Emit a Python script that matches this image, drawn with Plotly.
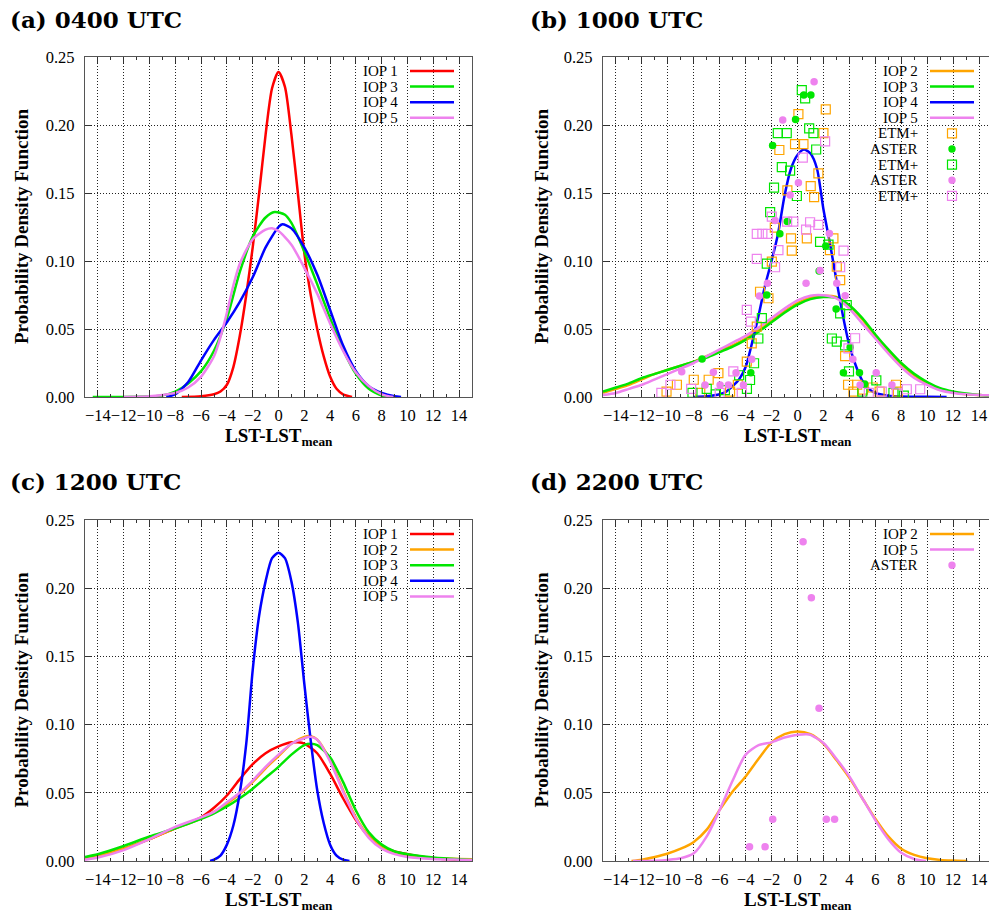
import plotly.graph_objects as go

W, H = 989, 915

# ---------------- (a) 0400 UTC ----------------
a_iop1_x = [-7.5, -6, -5, -4.5, -4, -3.5, -3, -2.5, -2, -1.5, -1, -0.5, 0, 0.5, 1, 1.5, 2, 2.5, 3, 3.5, 4, 4.5, 5, 5.7]
a_iop1_y = [0, 0.0006, 0.002, 0.004, 0.009, 0.022, 0.045, 0.075, 0.11, 0.15, 0.193, 0.227, 0.239, 0.228, 0.193, 0.15, 0.106, 0.075, 0.05, 0.03, 0.015, 0.006, 0.002, 0]
a_iop3_x = [-14.4, -12, -10, -9, -8, -7, -6, -5, -4, -3, -2, -1, -0.3, 0.5, 1, 2, 3, 4, 5, 6, 7, 8, 8.4]
a_iop3_y = [0, 0, 0.0005, 0.0012, 0.004, 0.01, 0.019, 0.034, 0.058, 0.092, 0.118, 0.132, 0.136, 0.134, 0.128, 0.107, 0.083, 0.058, 0.035, 0.017, 0.006, 0.001, 0]
a_iop4_x = [-8.7, -8, -7, -6, -5, -4, -3, -2, -1, 0, 0.3, 1, 2, 3, 4, 5, 6, 7, 8, 9, 9.5]
a_iop4_y = [0, 0.002, 0.011, 0.027, 0.042, 0.055, 0.07, 0.088, 0.11, 0.125, 0.127, 0.124, 0.11, 0.09, 0.064, 0.038, 0.019, 0.008, 0.003, 0.0005, 0]
a_iop5_x = [-12, -10, -9, -8, -7, -6, -5, -4.5, -4, -3.5, -3, -2, -1, -0.5, 0, 1, 2, 3, 4, 5, 6, 7, 8, 8.9]
a_iop5_y = [0, 0.0005, 0.0015, 0.003, 0.007, 0.015, 0.03, 0.044, 0.062, 0.082, 0.098, 0.116, 0.123, 0.124, 0.122, 0.112, 0.095, 0.076, 0.054, 0.034, 0.018, 0.008, 0.002, 0]

# ---------------- (b) 1000 UTC ----------------
b_wide_x = [-15, -14, -13, -12, -11, -10, -9, -8, -7, -6, -5, -4, -3, -2, -1, 0, 1, 2, 3, 4, 5, 6, 7, 8, 9, 10, 11, 12, 13, 14, 15]
b_iop2_y = [0.003, 0.006, 0.009, 0.013, 0.017, 0.02, 0.023, 0.026, 0.03, 0.034, 0.038, 0.043, 0.049, 0.056, 0.063, 0.069, 0.073, 0.0745, 0.0735, 0.067, 0.057, 0.045, 0.034, 0.024, 0.016, 0.01, 0.006, 0.0035, 0.002, 0.0014, 0.001]
b_iop3_y = [0.004, 0.007, 0.01, 0.014, 0.017, 0.02, 0.023, 0.026, 0.029, 0.033, 0.037, 0.042, 0.048, 0.055, 0.062, 0.068, 0.072, 0.0735, 0.073, 0.0675, 0.058, 0.046, 0.035, 0.025, 0.017, 0.011, 0.0065, 0.004, 0.0025, 0.0015, 0.001]
b_iop5_y = [0.0015, 0.003, 0.006, 0.009, 0.013, 0.017, 0.021, 0.025, 0.03, 0.035, 0.04, 0.045, 0.051, 0.058, 0.065, 0.071, 0.0745, 0.0748, 0.0725, 0.065, 0.054, 0.043, 0.032, 0.022, 0.014, 0.009, 0.005, 0.003, 0.002, 0.0015, 0.0012]
b_iop4_x = [-8, -7, -6, -5.5, -5, -4.5, -4, -3.5, -3, -2.5, -2, -1.5, -1, -0.5, 0, 0.5, 1, 1.5, 2, 2.5, 3, 3.5, 4, 4.5, 5, 5.5, 6, 7, 8, 10, 11.5]
b_iop4_y = [0, 0.0005, 0.002, 0.004, 0.008, 0.013, 0.022, 0.04, 0.06, 0.082, 0.1, 0.12, 0.148, 0.168, 0.178, 0.182, 0.179, 0.168, 0.138, 0.113, 0.086, 0.06, 0.038, 0.023, 0.012, 0.006, 0.003, 0.001, 0.0004, 0.0001, 0]

b_etm_or_x = [2.18, 0.07, 2.0, -0.19, 0.46, -1.4, 1.61, -0.78, 1.02, 1.28, -1.75, 2.77, -0.5, 0.72, -0.44, 2.5, -1.98, 3.03, 3.29, -2.89, -2.24, -3.14, -3.53, 3.67, -3.91, -10.1, -9.3, -8.0, -6.85, -6.1, -5.2, -7.5, -4.6, 4.31, 5.05, 6.33, 7.6, 7.74, 4.6, 3.9, 5.8]
b_etm_or_y = [0.2115, 0.208, 0.194, 0.186, 0.186, 0.1816, 0.1645, 0.152, 0.155, 0.147, 0.1245, 0.1167, 0.1167, 0.1167, 0.1076, 0.108, 0.0995, 0.0958, 0.086, 0.0774, 0.0726, 0.0517, 0.0395, 0.03, 0.026, 0.004, 0.009, 0.0127, 0.0127, 0.0176, 0.004, 0.003, 0.009, 0.004, 0.0054, 0.004, 0.009, 0.004, 0.009, 0.009, 0.007]
b_aster_gr_x = [0.49, 1.03, -0.15, -1.92, -0.79, -1.36, 2.18, 1.67, -2.37, 2.98, -7.36, -3.6, 3.54, 4.78, 5.18, 4.06]
b_aster_gr_y = [0.222, 0.222, 0.204, 0.185, 0.129, 0.12, 0.111, 0.0927, 0.075, 0.0647, 0.0279, 0.0179, 0.0179, 0.0179, 0.0095, 0.0366]
b_etm_gr_x = [0.33, 0.59, -1.52, -0.83, 0.9, 1.23, 1.44, -1.21, -0.57, -1.81, -0.05, -2.11, -2.37, 1.74, 2.39, -2.75, -3.02, 2.65, 3.03, 3.67, 3.29, 3.8, -3.35, -3.66, -3.9, 3.97, 6.08, -8.1, -7.0, -5.6, -4.5, 5.0, 7.4, 8.2, -6.3]
b_etm_gr_y = [0.2257, 0.2196, 0.194, 0.194, 0.1975, 0.194, 0.182, 0.169, 0.1664, 0.154, 0.1478, 0.136, 0.098, 0.114, 0.112, 0.058, 0.043, 0.043, 0.0407, 0.038, 0.0615, 0.0676, 0.0248, 0.0125, 0.006, 0.0188, 0.0122, 0.003, 0.006, 0.005, 0.016, 0.004, 0.003, 0.001, 0.002]
b_aster_vi_x = [1.28, -1.14, 0.07, -0.57, -1.73, 2.46, 1.74, 0.66, -2.32, -2.94, 3.03, 3.67, -3.53, 4.27, -4.74, 6.07, -4.17, 4.83, -8.93, -6.49, -7.13, -5.97, -5.33, 7.28]
b_aster_vi_y = [0.2318, 0.2037, 0.1576, 0.1485, 0.1297, 0.1203, 0.093, 0.0836, 0.0836, 0.0743, 0.0836, 0.0745, 0.0277, 0.0277, 0.0179, 0.0179, 0.0088, 0.0088, 0.0186, 0.0182, 0.0088, 0.0088, 0.0088, 0.0088]
b_etm_vi_x = [2.13, 0.41, 0.97, 1.61, 0.66, -1.98, -3.14, -2.71, -2.29, -0.32, -0.8, -3.14, -1.47, -1.73, 3.55, 3.29, -3.91, -3.6, 4.44, 3.93, -10.5, -9.8, -8.2, -6.0, -4.3, -4.95, 8.43, 9.46, 7.66, 6.5, 5.5]
b_etm_vi_y = [0.188, 0.176, 0.1285, 0.1265, 0.123, 0.1326, 0.12, 0.12, 0.12, 0.129, 0.129, 0.1015, 0.108, 0.0954, 0.1076, 0.0954, 0.064, 0.0554, 0.0432, 0.0358, 0.003, 0.009, 0.006, 0.003, 0.003, 0.0188, 0.0057, 0.0057, 0.0027, 0.004, 0.003]

# ---------------- (c) 1200 UTC ----------------
c_wide_x = [-15, -14, -12, -10, -8, -6, -5, -4, -3, -2, -1, 0, 1, 2, 2.5, 3, 4, 5, 6, 7, 8, 9, 10, 12, 14, 15]
c_iop1_x = [-15, -14, -12, -10, -8, -6, -5, -4, -3, -2, -1, 0, 1, 1.5, 2, 3, 4, 5, 6, 7, 8, 9, 10, 12, 14, 15]
c_iop1_y = [0.002, 0.004, 0.009, 0.016, 0.024, 0.032, 0.039, 0.048, 0.06, 0.071, 0.079, 0.084, 0.087, 0.087, 0.086, 0.079, 0.064, 0.046, 0.03, 0.018, 0.011, 0.007, 0.005, 0.002, 0.001, 0.0008]
c_iop2_y = [0.0015, 0.0035, 0.009, 0.016, 0.024, 0.031, 0.036, 0.042, 0.049, 0.058, 0.068, 0.077, 0.086, 0.091, 0.0915, 0.089, 0.074, 0.052, 0.032, 0.018, 0.01, 0.006, 0.0035, 0.002, 0.0015, 0.0012]
c_iop3_y = [0.003, 0.005, 0.011, 0.018, 0.024, 0.031, 0.035, 0.04, 0.046, 0.053, 0.061, 0.069, 0.078, 0.085, 0.086, 0.085, 0.076, 0.058, 0.037, 0.021, 0.012, 0.007, 0.005, 0.0025, 0.0012, 0.0008]
c_iop5_y = [0.001, 0.0025, 0.008, 0.016, 0.025, 0.032, 0.036, 0.043, 0.05, 0.059, 0.069, 0.078, 0.086, 0.09, 0.091, 0.089, 0.073, 0.051, 0.031, 0.017, 0.009, 0.005, 0.003, 0.0015, 0.001, 0.0008]
c_iop4_x = [-5.3, -5, -4.5, -4, -3.5, -3, -2.5, -2, -1.5, -1, -0.5, 0, 0.5, 1, 1.5, 2, 2.5, 3, 3.5, 4, 4.5, 5, 5.5]
c_iop4_y = [0, 0.001, 0.004, 0.012, 0.026, 0.05, 0.086, 0.14, 0.18, 0.205, 0.222, 0.226, 0.222, 0.205, 0.175, 0.13, 0.088, 0.052, 0.028, 0.012, 0.004, 0.001, 0]

# ---------------- (d) 2200 UTC ----------------
d_iop2_x = [-12.8, -12, -11, -10, -9, -8, -7, -6, -5, -4, -3, -2, -1, 0, 1, 2, 3, 4, 5, 6, 7, 8, 9, 10, 11, 12, 13.1]
d_iop2_y = [0, 0.001, 0.003, 0.0055, 0.009, 0.014, 0.023, 0.0375, 0.051, 0.062, 0.075, 0.087, 0.093, 0.095, 0.093, 0.086, 0.074, 0.061, 0.046, 0.031, 0.018, 0.009, 0.0045, 0.002, 0.0008, 0.0003, 0]
d_iop5_x = [-12.7, -11, -10, -9, -8, -7, -6, -5, -4, -3, -2, -1, 0, 0.7, 1, 2, 3, 4, 5, 6, 7, 8, 9, 9.9]
d_iop5_y = [0, 0.0002, 0.0008, 0.002, 0.0056, 0.018, 0.0375, 0.059, 0.078, 0.085, 0.087, 0.0905, 0.0925, 0.093, 0.0925, 0.0865, 0.075, 0.062, 0.046, 0.03, 0.016, 0.006, 0.0015, 0]
d_aster_x = [0.43, 1.07, 1.66, -1.91, 2.22, 2.86, -3.7, -2.5]
d_aster_y = [0.234, 0.193, 0.112, 0.0306, 0.0306, 0.0306, 0.0105, 0.0105]

x_ticks = list(range(-14, 15, 2))
y_ticks = [0.0, 0.05, 0.10, 0.15, 0.20, 0.25]

RED, ORANGE, GREEN, BLUE, VIOLET = "#ff0000", "#ffa500", "#00e600", "#0000ff", "#ee82ee"
SERIF = "Liberation Serif, Times New Roman, serif"

# panel frames in pixels: left, right, top, bottom (right panels run past the page edge)
panels = {
    "a": dict(l=85, r=472, t=57, b=397, ax="", title="(a) 0400 UTC", tx=8, ty=19, ylab_x=21),
    "b": dict(l=603, r=992, t=57, b=397, ax="2", title="(b) 1000 UTC", tx=528, ty=19, ylab_x=541),
    "c": dict(l=85, r=472, t=520, b=861, ax="3", title="(c) 1200 UTC", tx=8, ty=482, ylab_x=21),
    "d": dict(l=603, r=992, t=520, b=861, ax="4", title="(d) 2200 UTC", tx=528, ty=482, ylab_x=541),
}


def px(xp):
    return xp / W


def py(yp):
    return 1 - yp / H


fig = go.Figure()


def line(panel, x, y, color, width=2.5):
    p = panels[panel]
    fig.add_trace(go.Scatter(
        x=x, y=y, mode="lines", showlegend=False, hoverinfo="skip",
        line=dict(color=color, width=width, shape="spline", smoothing=0.7),
        xaxis="x" + p["ax"], yaxis="y" + p["ax"]))


def points(panel, x, y, color, symbol):
    p = panels[panel]
    if symbol == "square-open":
        marker = dict(symbol="square-open", size=9, color=color, line=dict(color=color, width=1.2))
    else:
        marker = dict(symbol="circle", size=7.5, color=color, line=dict(width=0))
    fig.add_trace(go.Scatter(
        x=x, y=y, mode="markers", showlegend=False, hoverinfo="skip",
        marker=marker, xaxis="x" + p["ax"], yaxis="y" + p["ax"]))


# (a)
line("a", a_iop1_x, a_iop1_y, RED)
line("a", a_iop3_x, a_iop3_y, GREEN)
line("a", a_iop4_x, a_iop4_y, BLUE)
line("a", a_iop5_x, a_iop5_y, VIOLET)
# (b)
line("b", b_wide_x, b_iop2_y, ORANGE)
line("b", b_wide_x, b_iop3_y, GREEN)
line("b", b_iop4_x, b_iop4_y, BLUE)
line("b", b_wide_x, b_iop5_y, VIOLET)
points("b", b_etm_or_x, b_etm_or_y, ORANGE, "square-open")
points("b", b_aster_gr_x, b_aster_gr_y, GREEN, "circle")
points("b", b_etm_gr_x, b_etm_gr_y, GREEN, "square-open")
points("b", b_aster_vi_x, b_aster_vi_y, VIOLET, "circle")
points("b", b_etm_vi_x, b_etm_vi_y, VIOLET, "square-open")
# (c)
line("c", c_iop1_x, c_iop1_y, RED)
line("c", c_wide_x, c_iop2_y, ORANGE)
line("c", c_wide_x, c_iop3_y, GREEN)
line("c", c_iop4_x, c_iop4_y, BLUE)
line("c", c_wide_x, c_iop5_y, VIOLET)
# (d)
line("d", d_iop2_x, d_iop2_y, ORANGE)
line("d", d_iop5_x, d_iop5_y, VIOLET)
points("d", d_aster_x, d_aster_y, VIOLET, "circle")

layout_axes = {}
for key, p in panels.items():
    right_edge = min(p["r"], W)
    xmax = -15 + 30 * (right_edge - p["l"]) / (p["r"] - p["l"])
    common = dict(
        showgrid=True, gridcolor="#222", gridwidth=1, griddash="1px,2px",
        zeroline=False, showline=True, linecolor="#555", linewidth=1.3,
        ticks="inside", ticklen=6, tickwidth=1, tickcolor="#333",
        tickfont=dict(family=SERIF, size=16.5, color="black"),
        tickangle=0, automargin=False, fixedrange=True,
    )
    layout_axes["xaxis" + p["ax"]] = dict(
        common, domain=[px(p["l"]), px(right_edge)], range=[-15, xmax],
        tickmode="array", tickvals=x_ticks, ticklabelstandoff=3,
        anchor="y" + p["ax"], mirror="ticks",
        minor=dict(dtick=1, tick0=-15, ticks="inside", ticklen=3, tickcolor="#333", showgrid=False),
    )
    layout_axes["yaxis" + p["ax"]] = dict(
        common, domain=[py(p["b"]), py(p["t"])], range=[0, 0.25],
        tickmode="array", tickvals=y_ticks, tickformat=".2f", ticklabelstandoff=6,
        anchor="x" + p["ax"], mirror="ticks" if p["r"] <= W else False,
    )

fig.update_layout(
    width=W, height=H, autosize=False,
    margin=dict(l=0, r=0, t=0, b=0, pad=0),
    paper_bgcolor="white", plot_bgcolor="white",
    showlegend=False,
    **layout_axes,
)

# titles and axis labels
for key, p in panels.items():
    fig.add_annotation(text="<b>" + p["title"] + "</b>", x=px(p["tx"]), y=py(p["ty"]),
                       xref="paper", yref="paper", xanchor="left", yanchor="middle",
                       showarrow=False, font=dict(family="DejaVu Serif", size=23, color="black"))
    fig.add_annotation(text="<b>Probability Density Function</b>", x=px(p["ylab_x"]),
                       y=py((p["t"] + p["b"]) / 2), xref="paper", yref="paper",
                       xanchor="center", yanchor="middle", textangle=-90, showarrow=False,
                       font=dict(family=SERIF, size=19, color="black"))
    fig.add_annotation(text="<b>LST-LST<sub>mean</sub></b>", x=px((p["l"] + p["r"]) / 2),
                       y=py(p["b"] + 26), xref="paper", yref="paper",
                       xanchor="center", yanchor="top", showarrow=False,
                       font=dict(family=SERIF, size=19, color="black"))

# keys: label on the left, sample on the right
keys = {
    "a": [("IOP 1", "line", RED), ("IOP 3", "line", GREEN), ("IOP 4", "line", BLUE), ("IOP 5", "line", VIOLET)],
    "b": [("IOP 2", "line", ORANGE), ("IOP 3", "line", GREEN), ("IOP 4", "line", BLUE), ("IOP 5", "line", VIOLET),
          ("ETM+", "square", ORANGE), ("ASTER", "dot", GREEN), ("ETM+", "square", GREEN),
          ("ASTER", "dot", VIOLET), ("ETM+", "square", VIOLET)],
    "c": [("IOP 1", "line", RED), ("IOP 2", "line", ORANGE), ("IOP 3", "line", GREEN), ("IOP 4", "line", BLUE),
          ("IOP 5", "line", VIOLET)],
    "d": [("IOP 2", "line", ORANGE), ("IOP 5", "line", VIOLET), ("ASTER", "dot", VIOLET)],
}
key_left = {"a": 117, "b": 129, "c": 117, "d": 129}
ROW = 15.6
for key, entries in keys.items():
    p = panels[key]
    pr = p["r"]
    first = p["t"] + 14
    last = first + ROW * (len(entries) - 1)
    fig.add_shape(type="rect", xref="paper", yref="paper", layer="between",
                  x0=px(pr - key_left[key]), x1=px(min(pr - 11, W)),
                  y0=py(last + 10), y1=py(p["t"] + 4),
                  fillcolor="white", line=dict(width=0))
    for i, (label, kind, color) in enumerate(entries):
        yc = first + ROW * i
        fig.add_annotation(text=label, x=px(pr - 72), y=py(yc), xref="paper", yref="paper",
                           xanchor="right", yanchor="middle", showarrow=False,
                           font=dict(family=SERIF, size=15, color="black"))
        if kind == "line":
            fig.add_shape(type="line", xref="paper", yref="paper",
                          x0=px(pr - 62), x1=px(pr - 18), y0=py(yc), y1=py(yc),
                          line=dict(color=color, width=2.5))
        else:
            half = 4.5 if kind == "square" else 3.7
            fig.add_shape(type="rect" if kind == "square" else "circle",
                          xref="paper", yref="paper",
                          xsizemode="pixel", ysizemode="pixel",
                          xanchor=px(pr - 40), yanchor=py(yc),
                          x0=-half, x1=half, y0=-half, y1=half,
                          fillcolor="rgba(0,0,0,0)" if kind == "square" else color,
                          line=dict(color=color, width=1.2 if kind == "square" else 0))

fig.write_html("out.html")
